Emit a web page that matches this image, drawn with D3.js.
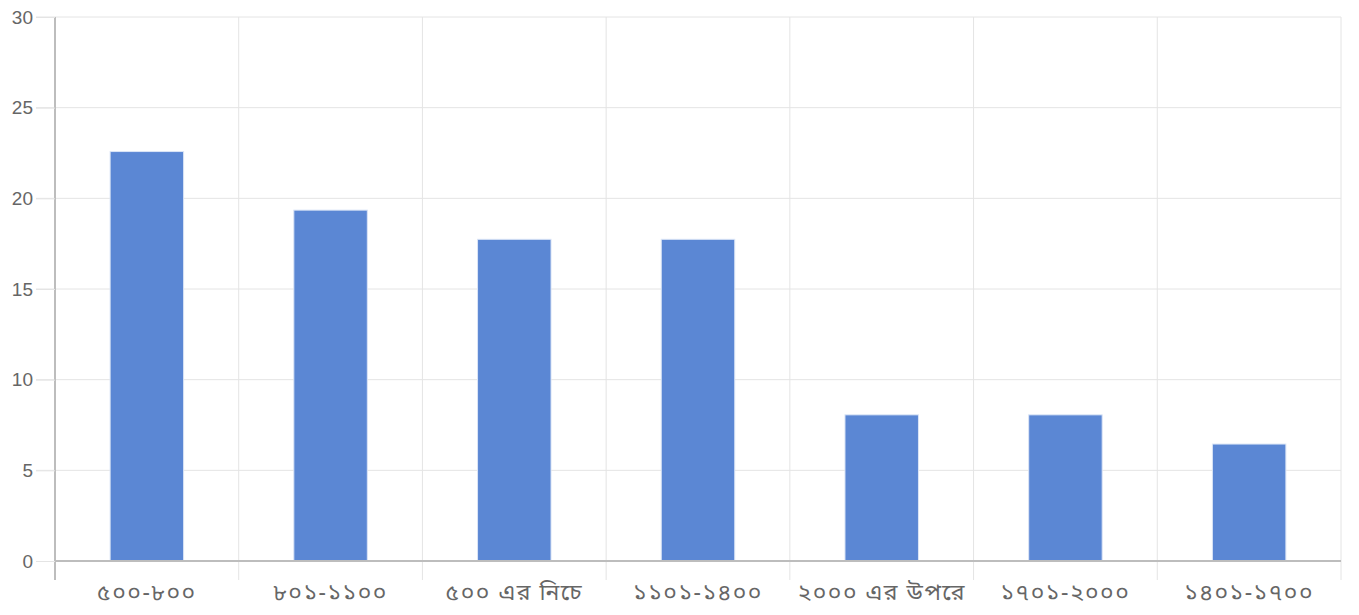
<!DOCTYPE html>
<html>
<head>
<meta charset="utf-8">
<script src="https://cdn.jsdelivr.net/npm/d3@7"></script>
<style>
  html, body { margin: 0; padding: 0; background: #fff; }
  svg { display: block; }
</style>
</head>
<body>
<svg id="chart" width="1359" height="615"></svg>
<script>
// Monthly expense ranges (Bengali labels) and share of respondents (%)
const categories = ["৫০০-৮০০", "৮০১-১১০০", "৫০০ এর নিচে", "১১০১-১৪০০", "২০০০ এর উপরে", "১৭০১-২০০০", "১৪০১-১৭০০"];
const values = [22.58, 19.35, 17.74, 17.74, 8.06, 8.06, 6.45];
const yTicks = [0, 5, 10, 15, 20, 25, 30];

const svg = d3.select("#chart");
const margin = { left: 55, right: 18, top: 17, bottom: 54 };
const W = 1359, H = 615;
const x0 = margin.left, x1 = W - margin.right;
const y0 = H - margin.bottom, y1 = margin.top;

const x = d3.scaleBand().domain(categories).range([x0, x1]).paddingInner(0).paddingOuter(0);
const y = d3.scaleLinear().domain([0, 30]).range([y0, y1]);

// Horizontal gridlines
svg.append("g")
  .selectAll("line").data(yTicks.slice(1)).join("line")
  .attr("x1", x0 - 19).attr("x2", x1)
  .attr("y1", d => y(d)).attr("y2", d => y(d))
  .attr("stroke", "#e4e4e4").attr("stroke-width", 1);

// Vertical gridlines at band edges
const edges = categories.map(c => x(c)).concat([x1]);
svg.append("g")
  .selectAll("line").data(edges.slice(1)).join("line")
  .attr("x1", d => d).attr("x2", d => d)
  .attr("y1", y1).attr("y2", y0 + 19)
  .attr("stroke", "#e4e4e4").attr("stroke-width", 1);

// Bars
const barW = x.bandwidth() * 0.4;
svg.append("g")
  .selectAll("rect").data(values).join("rect")
  .attr("x", (d, i) => x(categories[i]) + (x.bandwidth() - barW) / 2)
  .attr("width", barW)
  .attr("y", d => y(d))
  .attr("height", d => y(0) - y(d))
  .attr("fill", "#5b87d4")
  .attr("stroke", "#dbe5f6").attr("stroke-width", 1);

// Y axis
const yAxis = svg.append("g")
  .attr("transform", `translate(${x0},0)`)
  .call(d3.axisLeft(y).tickValues(yTicks).tickSize(19).tickPadding(3));
yAxis.select(".domain").attr("stroke", "#bdbdbd").attr("stroke-width", 2)
  .attr("d", `M0,${y1}V${y0 + 19}`);
yAxis.selectAll(".tick line").attr("stroke", "#e4e4e4");
yAxis.selectAll(".tick text")
  .attr("font-family", "'Liberation Sans', Arial, sans-serif")
  .attr("font-size", 19).attr("fill", "#666");

// X axis
const xAxis = svg.append("g")
  .attr("transform", `translate(0,${y0})`)
  .call(d3.axisBottom(x).tickSize(0).tickPadding(19));
xAxis.select(".domain").attr("stroke", "#bdbdbd").attr("stroke-width", 2)
  .attr("d", `M${x0},0H${x1}`);
xAxis.selectAll(".tick text")
  .attr("font-family", "'Noto Sans Bengali', 'Noto Sans', sans-serif")
  .attr("font-size", 23).attr("letter-spacing", "1.5px")
  .attr("fill", "#666").attr("dy", "0.85em");
</script>
</body>
</html>
